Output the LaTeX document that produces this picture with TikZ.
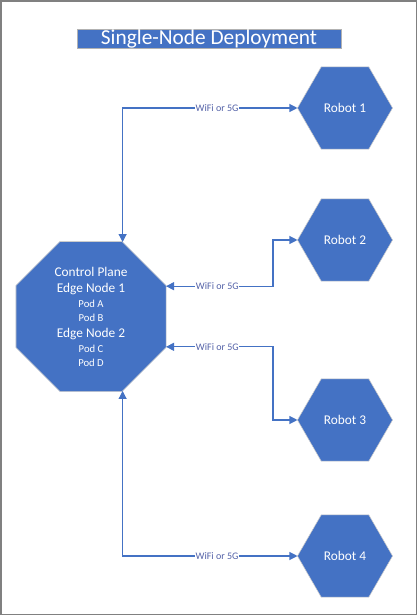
\documentclass[tikz,border=0pt]{standalone}
\usepackage{fontspec}
\setmainfont{Carlito}
\usetikzlibrary{shapes.geometric,arrows.meta}
\definecolor{azul}{RGB}{68,114,196}
\definecolor{rotulo}{RGB}{84,98,168}
\newcommand\grande{\fontsize{10}{11.6}\selectfont}
\newcommand\chico{\fontsize{8}{10.9}\selectfont}

\begin{document}
\begin{tikzpicture}[x=0.75pt,y=-0.75pt,
  titulo/.style={fill=azul,draw=gray!60,text=white,minimum width=198pt,minimum height=14.5pt,inner sep=0pt,font=\fontsize{16}{18}\selectfont},
  octo/.style={regular polygon,regular polygon sides=8,minimum size=121.8pt,inner sep=0pt,outer sep=0pt,fill=azul,draw=gray!40,text=white,align=center},
  hexa/.style={regular polygon,regular polygon sides=6,minimum size=71.3pt,inner sep=0pt,outer sep=0pt,fill=azul,draw=gray!40,text=white,font=\grande},
  enlace/.style={azul,line width=0.8pt,{Triangle[length=6pt,width=6pt]}-{Triangle[length=6pt,width=6pt]}},
  etiqueta/.style={fill=white,text=rotulo,inner sep=0.5pt,font=\fontsize{7.5}{9}\selectfont}]
\useasboundingbox (0,0) rectangle (418,616);
\draw[gray,line width=1.1pt] (1,1) rectangle (416.3,614.3);
\node[titulo] (tit) at (209,38.5) {Single-Node Deployment};
% nodo central y robots
\node[octo] (cp) at (91,316.5) {\grande Control Plane\\ \grande Edge Node 1\\[-0.75pt] \chico Pod A\\[-1.5pt] \chico Pod B\\ \grande Edge Node 2\\[-0.75pt] \chico Pod C\\[-1.5pt] \chico Pod D};
\node[hexa] (r1) at (345,108) {Robot 1};
\node[hexa] (r2) at (345,240) {Robot 2};
\node[hexa] (r3) at (345,420) {Robot 3};
\node[hexa] (r4) at (345,556) {Robot 4};
\coordinate (q) at (273,0);
% enlaces
\draw[enlace] (cp.67.5) |- node[etiqueta,pos=0.77] {WiFi or 5G} (r1.180);
\draw[enlace] (cp.22.5) -- node[etiqueta,pos=0.48] {WiFi or 5G} (cp.22.5 -| q) |- (r2.180);
\draw[enlace] (cp.-22.5) -- node[etiqueta,pos=0.48] {WiFi or 5G} (cp.-22.5 -| q) |- (r3.180);
\draw[enlace] (cp.-67.5) |- node[etiqueta,pos=0.77] {WiFi or 5G} (r4.180);
\end{tikzpicture}
\end{document}
